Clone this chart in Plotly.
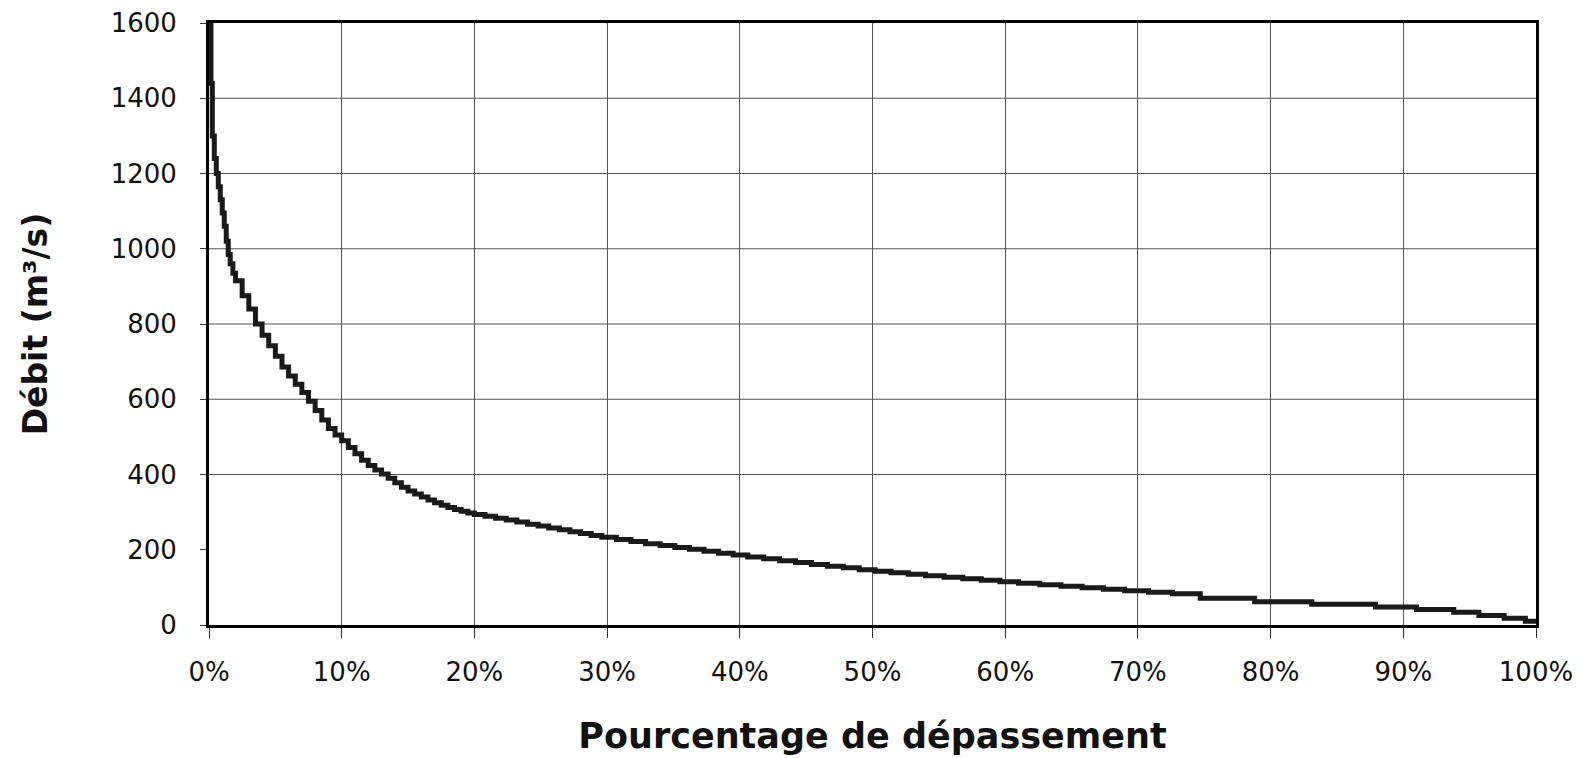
import plotly.graph_objects as go

# Flow duration curve
exceedance_pct = [0, 0.15, 0.25, 0.4, 0.55, 0.7, 0.85, 1.0, 1.15, 1.3, 1.45, 1.6, 1.8,
                  2.0, 2.5, 3.0, 3.5, 4.0, 4.5, 5.0, 5.5, 6.0, 6.5, 7.0, 7.5, 8.0, 8.5, 9.0,
                  9.5, 10.0, 10.5, 11.0, 11.5, 12.0, 12.5, 13.0, 13.5, 14.0, 14.5, 15.0, 15.5,
                  16.0, 16.5, 17.0, 17.5, 18.0, 18.5, 19.0, 19.5, 20.0,
                  20.8, 21.6, 22.4, 23.2, 24.0, 24.8, 25.6, 26.4, 27.2, 28.0, 28.8, 29.6,
                  30.7, 31.8, 32.9, 34.0, 35.1, 36.2, 37.3, 38.4, 39.5, 40.6, 41.8, 43.0,
                  44.2, 45.4, 46.6, 47.8, 49.0, 50.2, 51.4, 52.7, 54.0, 55.4, 56.8, 58.2,
                  59.6, 61.0, 62.6, 64.2, 65.8, 67.4, 69.0, 70.8, 72.6, 74.7, 78.8, 83.1,
                  87.9, 91.0, 93.8, 95.7, 97.6, 99.2, 100]
debit = [1600, 1440, 1300, 1240, 1200, 1165, 1130, 1095, 1060, 1020, 985, 960, 935,
         915, 875, 840, 800, 770, 742, 714, 686, 662, 640, 618, 595, 570, 545, 522,
         505, 490, 472, 455, 438, 424, 412, 401, 390, 378, 366, 356, 348,
         340, 332, 325, 318, 312, 307, 302, 298, 294,
         289, 284, 279, 274, 268, 263, 258, 253, 248, 243, 238, 233,
         227, 222, 216, 211, 206, 201, 196, 191, 186, 181, 176, 171,
         166, 161, 156, 152, 147, 143, 139, 135, 131, 127, 123, 119,
         115, 111, 107, 103, 99, 95, 91, 87, 83, 71, 62, 55,
         48, 41, 34, 25, 18, 10, 6]

x_ticks = [0, 10, 20, 30, 40, 50, 60, 70, 80, 90, 100]
x_tick_labels = ["0%", "10%", "20%", "30%", "40%", "50%", "60%", "70%", "80%", "90%", "100%"]
y_ticks = [0, 200, 400, 600, 800, 1000, 1200, 1400, 1600]
y_grid = [400, 600, 800, 1000, 1200, 1400]   # the 200 line is not printed in the original

fig = go.Figure()
fig.add_trace(go.Scatter(
    x=exceedance_pct, y=debit, mode="lines",
    line=dict(color="#1a1a1a", width=5, shape="hv"),
    showlegend=False, hoverinfo="skip",
))

# horizontal grid lines (data-referenced in y, spanning the plot width)
for gv in y_grid:
    fig.add_shape(type="line", xref="paper", yref="y", x0=0, x1=1, y0=gv, y1=gv,
                  line=dict(color="#555555", width=1), layer="below")

tick_font = dict(family="DejaVu Sans", size=26, color="#111111")
xtitle_font = dict(family="DejaVu Sans", size=35, color="#111111", weight="bold")
ytitle_font = dict(family="DejaVu Sans", size=33, color="#111111", weight="bold")

# the page body has an 8px default margin, so margins are compensated
fig.update_layout(
    width=1585, height=758,
    margin=dict(l=201, r=57, t=15, b=141),
    paper_bgcolor="white", plot_bgcolor="white",
    xaxis=dict(
        range=[0, 100], tickvals=x_ticks, ticktext=x_tick_labels,
        showgrid=True, gridcolor="#555555", gridwidth=1,
        showline=True, linecolor="#000000", linewidth=3, mirror=True,
        ticks="outside", ticklen=10, tickcolor="#333333", tickwidth=1,
        tickfont=tick_font, ticklabelstandoff=12, ticklabeloverflow="allow",
        zeroline=False, automargin=False,
        title=dict(text="Pourcentage de dépassement", font=xtitle_font, standoff=38),
    ),
    yaxis=dict(
        range=[0, 1600], tickvals=y_ticks,
        showgrid=False,
        showline=True, linecolor="#000000", linewidth=3, mirror=True,
        ticks="outside", ticklen=6, tickcolor="#333333", tickwidth=1,
        tickfont=tick_font, ticklabelstandoff=18, ticklabeloverflow="allow",
        zeroline=False, automargin=False,
        title=dict(text="Débit (m³/s)", font=ytitle_font, standoff=54),
    ),
)

fig.write_html("out.html")
